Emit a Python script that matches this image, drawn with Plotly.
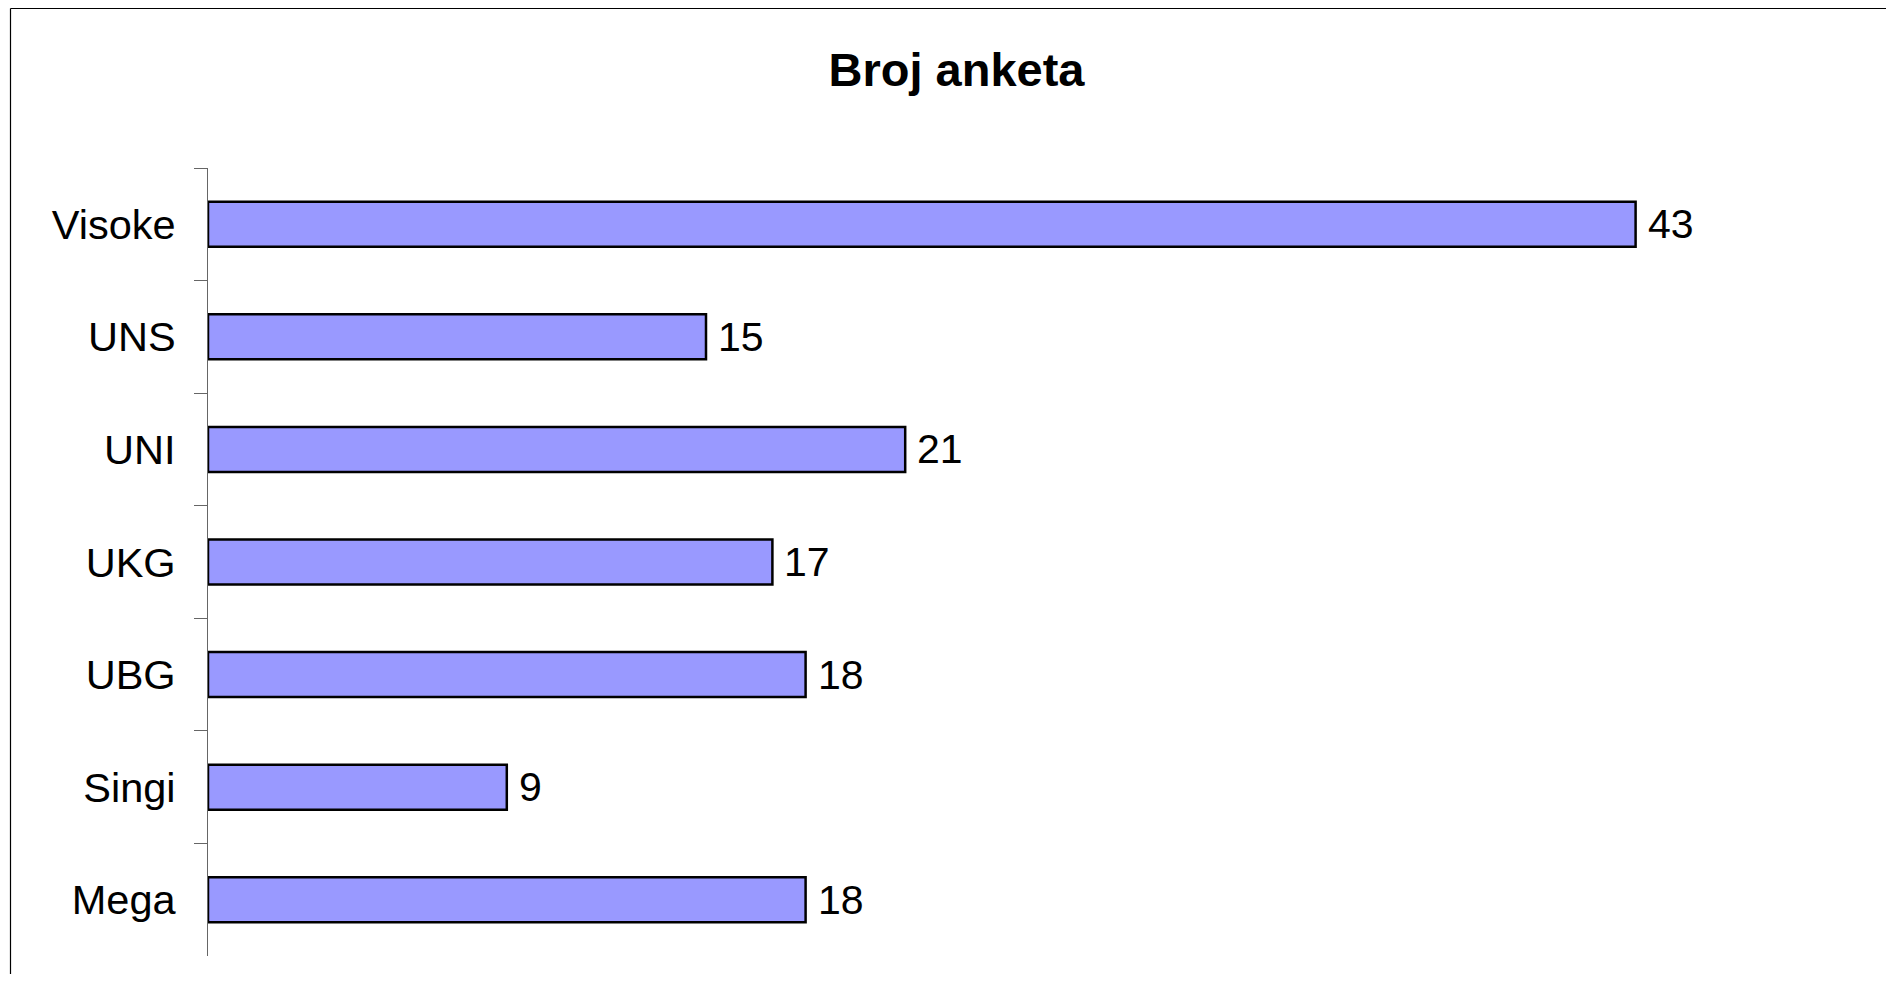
import plotly.graph_objects as go

categories = ["Visoke", "UNS", "UNI", "UKG", "UBG", "Singi", "Mega"]
values = [43, 15, 21, 17, 18, 9, 18]
title_text = "Broj anketa"

FONT = "Liberation Sans, Arial, sans-serif"

# the page body adds an 8px offset; figure sized so it fits the window
OFF = 8
W, H = 1894 - 2 * OFF, 982 - 2 * OFF
ML = 208 - OFF
MT = 168 - OFF
plot_right = 1868 - OFF
plot_bottom = 956 - OFF
MR = W - plot_right
MB = H - plot_bottom
pw = W - ML - MR
ph = H - MT - MB

def px_x(p):
    return (p - OFF - ML) / pw

def px_y(p):
    return (H - MB - (p - OFF)) / ph

fig = go.Figure()
fig.add_trace(go.Bar(
    x=values,
    y=categories,
    orientation="h",
    marker=dict(color="#9999FF", line=dict(color="#000000", width=2.5)),
    hoverinfo="x+y",
))

for c, v in zip(categories, values):
    fig.add_annotation(
        x=v, y=c, xref="x", yref="y",
        text=str(v), showarrow=False,
        xanchor="left", yanchor="middle", xshift=10,
        font=dict(family=FONT, size=41, color="#000000"),
    )

# chart border (left and top visible)
fig.add_shape(type="line", xref="paper", yref="paper",
              x0=px_x(10.5), x1=px_x(10.5), y0=px_y(8.5), y1=px_y(1100),
              line=dict(color="#000000", width=1.2))
fig.add_shape(type="line", xref="paper", yref="paper",
              x0=px_x(10.5), x1=px_x(2100), y0=px_y(8.5), y1=px_y(8.5),
              line=dict(color="#000000", width=1.2))

fig.update_layout(
    width=W, height=H,
    margin=dict(l=ML, r=MR, t=MT, b=MB, autoexpand=False),
    paper_bgcolor="#FFFFFF",
    plot_bgcolor="#FFFFFF",
    showlegend=False,
    bargap=0.6,
    title=dict(
        text="<b>" + title_text + "</b>",
        x=(956.5 - OFF) / W, xref="container", xanchor="center",
        y=1 - (69.7 - OFF) / H, yref="container", yanchor="middle",
        font=dict(family=FONT, size=47, color="#000000"),
    ),
    xaxis=dict(visible=False, range=[0, 50], fixedrange=True),
    yaxis=dict(
        type="category",
        autorange="reversed",
        showline=True, linecolor="#666666", linewidth=1.2,
        ticks="outside", tickson="boundaries", ticklen=13,
        tickcolor="#666666", tickwidth=1.2,
        showgrid=False, zeroline=False,
        tickfont=dict(family=FONT, size=41.5, color="#000000"),
        ticklabelstandoff=23,
    ),
)

fig.write_html("out.html")
